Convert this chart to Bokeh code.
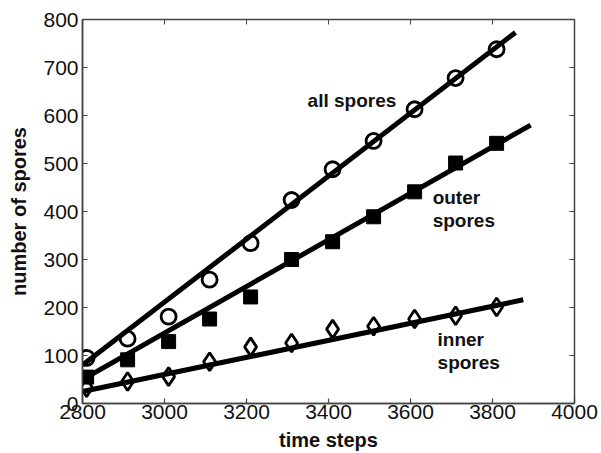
from bokeh.plotting import figure
from bokeh.models import Range1d, LinearAxis, FixedTicker
from bokeh.core.properties import value
from bokeh.embed import file_html
from bokeh.resources import INLINE

# Data
time_steps = [2810, 2910, 3010, 3110, 3210, 3310, 3410, 3510, 3610, 3710, 3810]
all_spores = [95, 135, 181, 258, 334, 424, 488, 547, 613, 678, 738]
outer_spores = [55, 91, 129, 176, 222, 300, 337, 389, 441, 501, 542]
inner_spores = [33, 46, 56, 87, 118, 126, 155, 161, 176, 183, 201]

# Fitted lines (endpoints)
all_fit_x = [2800, 3856]
all_fit_y = [80, 773]
outer_fit_x = [2800, 3893]
outer_fit_y = [50, 580]
inner_fit_x = [2800, 3875]
inner_fit_y = [25, 216]

# Annotations
label_x = [3349, 3654, 3654, 3666, 3666]
label_y = [632, 430, 382, 133, 85]
label_text = ["all spores", "outer", "spores", "inner", "spores"]

x_ticks = [2800, 3000, 3200, 3400, 3600, 3800, 4000]
y_ticks = [0, 100, 200, 300, 400, 500, 600, 700, 800]

FONT = "Liberation Sans"

p = figure(frame_width=492, frame_height=384, output_backend="svg", toolbar_location=None,
           x_range=Range1d(2800, 4000), y_range=Range1d(0, 800),
           min_border_left=82, min_border_right=25, min_border_top=19, min_border_bottom=10)
p.grid.visible = False
p.background_fill_color = "white"
p.border_fill_color = "white"
p.outline_line_color = "#444444"
p.outline_line_width = 1.5

for ax, ticks in ((p.xaxis[0], x_ticks), (p.yaxis[0], y_ticks)):
    ax.ticker = FixedTicker(ticks=ticks)
    ax.major_tick_in = 5
    ax.major_tick_out = 0
    ax.minor_tick_line_color = None
    ax.axis_line_color = "#444444"
    ax.axis_line_width = 1.5
    ax.major_tick_line_color = "#444444"
    ax.major_tick_line_width = 1.2
    ax.major_label_text_font = FONT
    ax.major_label_text_font_size = "21px"
    ax.major_label_text_color = "#111111"
    ax.axis_label_text_font = FONT
    ax.axis_label_text_font_size = "20px"
    ax.axis_label_text_font_style = "bold"
    ax.axis_label_text_color = "#111111"

p.xaxis[0].axis_label = "time steps"
p.xaxis[0].major_label_standoff = 1
p.xaxis[0].axis_label_standoff = 7
p.yaxis[0].axis_label = "number of spores"
p.yaxis[0].major_label_standoff = 4
p.yaxis[0].axis_label_standoff = 10

top = LinearAxis(ticker=FixedTicker(ticks=x_ticks), major_tick_in=5, major_tick_out=0,
                 minor_tick_line_color=None, axis_line_color=None,
                 major_tick_line_color="#444444", major_label_text_font_size="1px",
                 major_label_text_color=None, major_label_standoff=0)
right = LinearAxis(ticker=FixedTicker(ticks=y_ticks), major_tick_in=5, major_tick_out=0,
                   minor_tick_line_color=None, axis_line_color=None,
                   major_tick_line_color="#444444", major_label_text_font_size="1px",
                   major_label_text_color=None, major_label_standoff=0)
p.add_layout(top, "above")
p.add_layout(right, "right")

# fit lines
p.line(all_fit_x, all_fit_y, line_color="black", line_width=5)
p.line(outer_fit_x, outer_fit_y, line_color="black", line_width=5)
p.line(inner_fit_x, inner_fit_y, line_color="black", line_width=5)

# markers
p.scatter(time_steps, all_spores, marker="circle", size=15, fill_color=None,
          line_color="black", line_width=2.8)
p.scatter(time_steps, outer_spores, marker="square", size=14, fill_color="black",
          line_color="black", line_width=1)
p.scatter(time_steps, inner_spores, marker="diamond", size=18, fill_color=None,
          line_color="black", line_width=2.8)

p.text(label_x, label_y, text=label_text, text_font=value(FONT), text_font_size="19px",
       text_font_style="bold", text_baseline="middle", text_align="left", text_color="#111111")

open("out.html", "w").write(file_html(p, INLINE))
